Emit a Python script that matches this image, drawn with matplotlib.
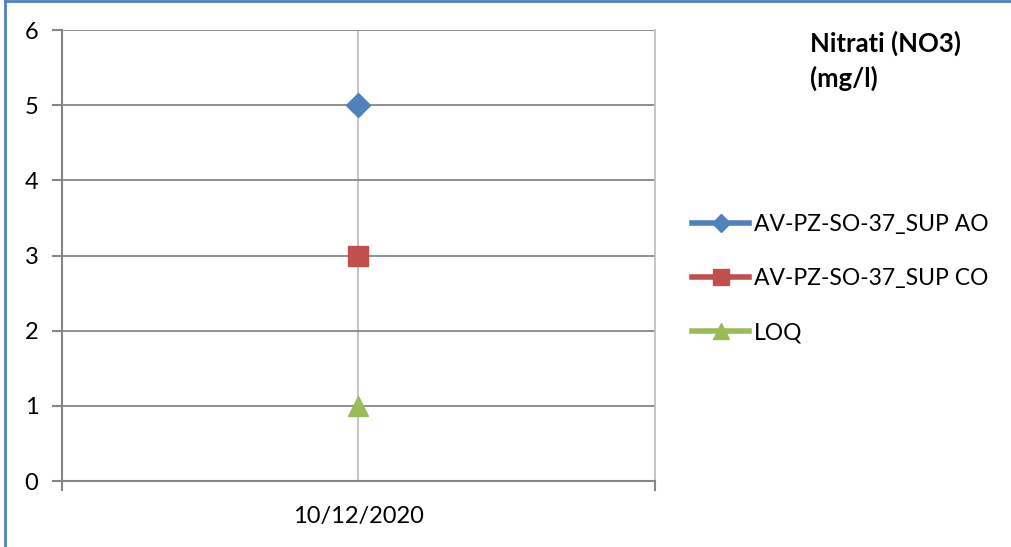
import matplotlib.pyplot as plt
from matplotlib.lines import Line2D

plt.rcParams['font.family'] = ['Lato', 'DejaVu Sans']

# data
dates = ['10/12/2020']
series_names = ['AV-PZ-SO-37_SUP AO', 'AV-PZ-SO-37_SUP CO', 'LOQ']
series_values = [[5], [3], [1]]
colors = ['#4F81BD', '#C0504D', '#9BBB59']
markers = ['D', 's', '^']
msizes = [12, 14, 14]
yticks = [0, 1, 2, 3, 4, 5, 6]

W, H = 1012, 547
fig = plt.figure(figsize=(W / 100, H / 100), dpi=100)
ax = fig.add_axes([62 / W, 1 - 481 / H, (655 - 62) / W, (481 - 30) / H])

x = list(range(len(dates)))
for name, vals, c, m, ms in zip(series_names, series_values, colors, markers, msizes):
    ax.plot(x, vals, color=c, marker=m, markersize=ms, lw=3, label=name,
            zorder=3, clip_on=False)

ax.set_xlim(-0.5, len(dates) - 0.5)
ax.set_ylim(0, 6)
ax.set_yticks(yticks)
ax.set_xticks(x)
ax.set_xticklabels(dates)
ax.tick_params(axis='x', length=0, labelsize=17, pad=18, colors='black')
ax.tick_params(axis='y', length=7, width=1.5, color='#868686', labelsize=17, pad=10)

# category boundary tick marks on x axis
for xb in [-0.5, len(dates) - 0.5]:
    ax.plot([xb, xb], [0, -0.12], color='#868686', lw=1.5, clip_on=False)

ax.grid(True, color='#868686', lw=1.3)
ax.xaxis.grid(True, color='#bfbfbf', lw=1.3)
ax.set_axisbelow(True)
ax.spines['top'].set_visible(False)
ax.spines['right'].set_color('#bfbfbf')
ax.spines['right'].set_linewidth(1.3)
ax.spines['left'].set_color('#868686')
ax.spines['left'].set_linewidth(1.5)
ax.spines['bottom'].set_color('#868686')
ax.spines['bottom'].set_linewidth(1.5)

handles = [Line2D([0], [0], color=c, marker=m, markersize=ms, lw=4)
           for c, m, ms in zip(colors, markers, [9, 11, 11])]
fig.legend(handles, series_names, loc='upper left', bbox_to_anchor=(692 / W, 1 - 214 / H),
           frameon=False, fontsize=16.5, handlelength=2.5, handletextpad=0.2,
           labelspacing=1.45, borderaxespad=0, borderpad=0)

fig.text(810 / W, 1 - 31 / H, 'Nitrati (NO3)\n(mg/l)', fontsize=18.5, fontweight='bold',
         va='top', ha='left', linespacing=1.45)

# chart border (left and top visible)
fig.add_artist(Line2D([5.5 / W, 5.5 / W], [0, 1], color='#4F81BD', lw=2))
fig.add_artist(Line2D([5.5 / W, 1], [1 - 1 / H, 1 - 1 / H], color='#4F81BD', lw=2))

fig.savefig('out.png', dpi=100)
